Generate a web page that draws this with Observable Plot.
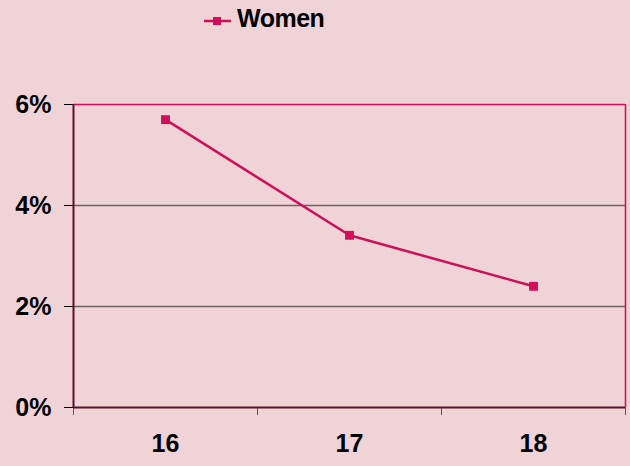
<!DOCTYPE html>
<html>
<head>
<meta charset="utf-8">
<script src="https://cdn.jsdelivr.net/npm/d3@7"></script>
<script src="https://cdn.jsdelivr.net/npm/@observablehq/plot@0.6"></script>
<style>
  html, body { margin: 0; padding: 0; background: #efd3d6; }
  #wrap { position: relative; width: 630px; height: 466px; overflow: hidden; font-family: "Liberation Sans", Arial, sans-serif; }
  #legend { position: relative; height: 40px; }
  #legend svg { position: absolute; left: 203px; top: 15px; }
  #legend span { position: absolute; left: 237px; top: 4px; font-weight: bold; font-size: 25px; color: #000; letter-spacing: -0.5px; }
</style>
</head>
<body>
<div id="wrap">
  <div id="legend"></div>
  <div id="chart"></div>
</div>
<script>
const ages = [16, 17, 18];
const women = [5.7, 3.41, 2.4];
const yTicks = [0, 2, 4, 6];
const seriesName = "Women";

const lineColor = "#cf0f5a";
const gridColor = "#6e6063";
const axisColor = "#5a1030";

const data = ages.map((a, i) => ({age: a, value: women[i]}));

// legend
const leg = document.getElementById("legend");
leg.innerHTML = `<svg width="30" height="12"><line x1="1" y1="6" x2="28" y2="6" stroke="${lineColor}" stroke-width="2.5"/><rect x="10" y="2" width="8" height="8" fill="${lineColor}"/></svg><span>${seriesName}</span>`;

const plot = Plot.plot({
  width: 630,
  height: 426,
  marginTop: 64,
  marginBottom: 59,
  marginLeft: 73,
  marginRight: 5,
  style: {background: "transparent", fontFamily: "Liberation Sans, Arial, sans-serif", fontSize: "25px", fontWeight: "bold", color: "#000"},
  x: {domain: [15.5, 18.5]},
  y: {domain: [0, 6]},
  marks: [
    Plot.ruleY([2, 4], {stroke: gridColor, strokeWidth: 1.5}),
    Plot.ruleY([6], {stroke: lineColor, strokeWidth: 1.5}),
    Plot.ruleX([18.5], {stroke: lineColor, strokeWidth: 1.5}),
    Plot.axisY({ticks: yTicks, tickFormat: d => d + "%", tickSize: 9, tickPadding: 13, stroke: "#000", fill: "#000", label: null}),
    Plot.axisX({ticks: ages, tickFormat: d => String(d), tickSize: 0, tickPadding: 27, fill: "#000", label: null}),
    Plot.axisX({ticks: [15.5, 16.5, 17.5, 18.5], tickFormat: () => "", tickSize: 8, stroke: "#555", label: null}),
    Plot.ruleX([15.5], {stroke: axisColor, strokeWidth: 2}),
    Plot.ruleY([0], {stroke: axisColor, strokeWidth: 2}),
    Plot.line(data, {x: "age", y: "value", stroke: lineColor, strokeWidth: 2.5}),
    Plot.dot(data, {x: "age", y: "value", symbol: "square", r: 5, fill: lineColor, stroke: "none"})
  ]
});
document.getElementById("chart").appendChild(plot);
</script>
</body>
</html>
